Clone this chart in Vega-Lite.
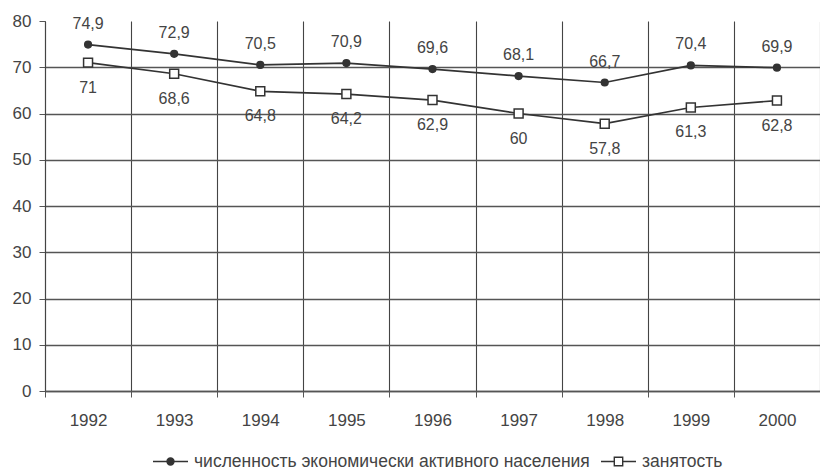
{
  "$schema": "https://vega.github.io/schema/vega-lite/v6.json",
  "autosize": "none",
  "width": 775,
  "height": 370,
  "padding": {"left": 45, "top": 21, "right": 0, "bottom": 79},
  "background": "white",
  "config": {
    "view": {"stroke": null},
    "font": "Liberation Sans"
  },
  "data": {
    "values": [
      {"year": "1992", "series": "численность экономически активного населения", "value": 74.9, "label": "74,9"},
      {"year": "1993", "series": "численность экономически активного населения", "value": 72.9, "label": "72,9"},
      {"year": "1994", "series": "численность экономически активного населения", "value": 70.5, "label": "70,5"},
      {"year": "1995", "series": "численность экономически активного населения", "value": 70.9, "label": "70,9"},
      {"year": "1996", "series": "численность экономически активного населения", "value": 69.6, "label": "69,6"},
      {"year": "1997", "series": "численность экономически активного населения", "value": 68.1, "label": "68,1"},
      {"year": "1998", "series": "численность экономически активного населения", "value": 66.7, "label": "66,7"},
      {"year": "1999", "series": "численность экономически активного населения", "value": 70.4, "label": "70,4"},
      {"year": "2000", "series": "численность экономически активного населения", "value": 69.9, "label": "69,9"},
      {"year": "1992", "series": "занятость", "value": 71, "label": "71"},
      {"year": "1993", "series": "занятость", "value": 68.6, "label": "68,6"},
      {"year": "1994", "series": "занятость", "value": 64.8, "label": "64,8"},
      {"year": "1995", "series": "занятость", "value": 64.2, "label": "64,2"},
      {"year": "1996", "series": "занятость", "value": 62.9, "label": "62,9"},
      {"year": "1997", "series": "занятость", "value": 60, "label": "60"},
      {"year": "1998", "series": "занятость", "value": 57.8, "label": "57,8"},
      {"year": "1999", "series": "занятость", "value": 61.3, "label": "61,3"},
      {"year": "2000", "series": "занятость", "value": 62.8, "label": "62,8"}
    ]
  },
  "encoding": {
    "x": {
      "field": "year",
      "type": "ordinal",
      "scale": {"type": "band", "paddingInner": 0, "paddingOuter": 0},
      "axis": {
        "title": null,
        "labelAngle": 0,
        "tickBand": "extent",
        "grid": true,
        "gridColor": "#444",
        "gridWidth": 1.1,
        "domainColor": "#555",
        "domainWidth": 1.3,
        "tickColor": "#555",
        "tickSize": 6,
        "labelFontSize": 17,
        "labelColor": "#444",
        "labelPadding": 15
      }
    },
    "y": {
      "field": "value",
      "type": "quantitative",
      "scale": {"domain": [0, 80], "nice": false},
      "axis": {
        "title": null,
        "values": [0, 10, 20, 30, 40, 50, 60, 70, 80],
        "grid": true,
        "gridColor": "#555",
        "gridWidth": 1.3,
        "gridOpacity": {"condition": {"test": "datum.value === 80", "value": 0}, "value": 1},
        "domainColor": "#444",
        "domainWidth": 1.1,
        "tickColor": "#555",
        "tickSize": 6,
        "labelFontSize": 17,
        "labelColor": "#444",
        "labelPadding": 8
      }
    }
  },
  "layer": [
    {
      "mark": {"type": "line", "stroke": "#333", "strokeWidth": 1.7},
      "encoding": {"detail": {"field": "series"}}
    },
    {
      "mark": {"type": "point", "stroke": "#333", "strokeWidth": 1.5, "opacity": 1},
      "encoding": {
        "shape": {"condition": {"test": "datum.series === 'занятость'", "value": "square"}, "value": "circle"},
        "fill": {"condition": {"test": "datum.series === 'занятость'", "value": "white"}, "value": "#333"},
        "size": {"condition": {"test": "datum.series === 'занятость'", "value": 80}, "value": 45}
      }
    },
    {
      "transform": [{"filter": "datum.series !== 'занятость'"}],
      "mark": {"type": "text", "fontSize": 16, "color": "#444", "dy": -21, "baseline": "middle"},
      "encoding": {"text": {"field": "label"}}
    },
    {
      "transform": [{"filter": "datum.series === 'занятость'"}],
      "mark": {"type": "text", "fontSize": 16, "color": "#444", "dy": 25, "baseline": "middle"},
      "encoding": {"text": {"field": "label"}}
    },
    {
      "transform": [{"filter": "false"}],
      "mark": {"type": "point", "strokeWidth": 1.4, "opacity": 1, "size": 1225},
      "encoding": {
        "shape": {
          "field": "series",
          "scale": {
            "domain": ["численность экономически активного населения", "занятость"],
            "range": [
              "M-1,0L1,0M0.2,0A0.2,0.2,0,1,1,-0.2,0A0.2,0.2,0,1,1,0.2,0Z",
              "M-1,0L-0.24,0M0.24,0L1,0M-0.24,-0.24L0.24,-0.24L0.24,0.24L-0.24,0.24Z"
            ]
          },
          "legend": {
            "title": null,
            "orient": "none",
            "direction": "horizontal",
            "legendX": 107,
            "legendY": 422,
            "labelFontSize": 17.5,
            "labelColor": "#444",
            "labelLimit": 0,
            "labelOffset": 5,
            "columnPadding": 8,
            "symbolSize": 1225,
            "symbolStrokeWidth": 1.4,
            "encode": {
              "symbols": {
                "update": {
                  "stroke": {"value": "#333"},
                  "strokeOpacity": {"value": 1},
                  "strokeWidth": {"value": 1.4},
                  "opacity": {"value": 1}
                }
              }
            }
          }
        },
        "stroke": {
          "field": "series",
          "scale": {
            "domain": ["численность экономически активного населения", "занятость"],
            "range": ["#333", "#333"]
          }
        },
        "fill": {
          "field": "series",
          "scale": {
            "domain": ["численность экономически активного населения", "занятость"],
            "range": ["#333", "white"]
          }
        }
      }
    }
  ]
}
